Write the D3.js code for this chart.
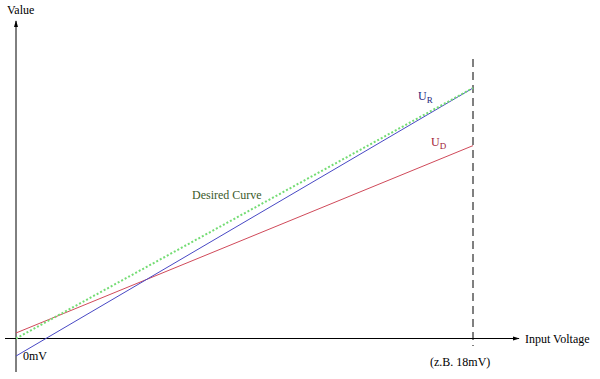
<!DOCTYPE html>
<html>
<head>
<meta charset="utf-8">
<script src="https://cdn.jsdelivr.net/npm/d3@7"></script>
<style>
  body { margin: 0; background: #fff; }
</style>
</head>
<body>
<svg class="vis" width="600" height="379"></svg>
<script>
// input voltage (mV) at start and end of the lines
var inputs = [0, 18];
// line values at those inputs
var desiredCurve = [0, 10];
var uR = [-0.7, 10];
var uD = [0.22, 7.7];

var serif = "'Liberation Serif', 'DejaVu Serif', 'Times New Roman', serif";

var svg = d3.select(".vis");

var x = d3.scaleLinear().domain([0, 18]).range([16, 473]);
var y = d3.scaleLinear().domain([0, 10]).range([338.5, 88]);

// arrow marker
svg.append("defs").append("marker")
    .attr("id", "arrow")
    .attr("viewBox", "0 0 10 10")
    .attr("refX", 9)
    .attr("refY", 5)
    .attr("markerWidth", 7)
    .attr("markerHeight", 7)
    .attr("orient", "auto")
    .append("path")
    .attr("d", "M0,2 L10,5 L0,8 Z")
    .attr("fill", "#000");

// axes
svg.append("line")
    .attr("x1", 5).attr("x2", 519)
    .attr("y1", y(0)).attr("y2", y(0))
    .attr("stroke", "#000")
    .attr("marker-end", "url(#arrow)");

svg.append("line")
    .attr("x1", x(0)).attr("x2", x(0))
    .attr("y1", 372).attr("y2", 21)
    .attr("stroke", "#000")
    .attr("marker-end", "url(#arrow)");

// dashed marker at 18mV
svg.append("line")
    .attr("x1", x(18)).attr("x2", x(18))
    .attr("y1", 59).attr("y2", 346)
    .attr("stroke", "#000")
    .attr("stroke-dasharray", "8,5");

var line = d3.line()
    .x(function (d) { return x(d[0]); })
    .y(function (d) { return y(d[1]); });

function pts(vals) {
    return inputs.map(function (v, i) { return [v, vals[i]]; });
}

svg.append("path")
    .attr("d", line(pts(uD)))
    .attr("stroke", "#d04a5a")
    .attr("fill", "none");

svg.append("path")
    .attr("d", line(pts(uR)))
    .attr("stroke", "#4848c4")
    .attr("fill", "none");

svg.append("path")
    .attr("d", line(pts(desiredCurve)))
    .attr("stroke", "#74dc74")
    .attr("stroke-width", 2)
    .attr("stroke-dasharray", "2,2")
    .attr("fill", "none");

// labels
function label(tx, ty, str, color) {
    return svg.append("text")
        .attr("x", tx).attr("y", ty)
        .attr("font-family", serif)
        .attr("font-size", "12px")
        .attr("fill", color || "#000")
        .text(str);
}

label(7, 14, "Value");
label(525, 343, "Input Voltage");
label(23, 360, "0mV");
label(430, 366, "(z.B. 18mV)");
label(192, 199, "Desired Curve", "#3b5a2a");

var ur = label(418, 100, "U", "#22227a");
ur.append("tspan").attr("dy", 3).attr("font-size", "9px").text("R");

var ud = label(431, 146, "U", "#a02035");
ud.append("tspan").attr("dy", 3).attr("font-size", "9px").text("D");
</script>
</body>
</html>
